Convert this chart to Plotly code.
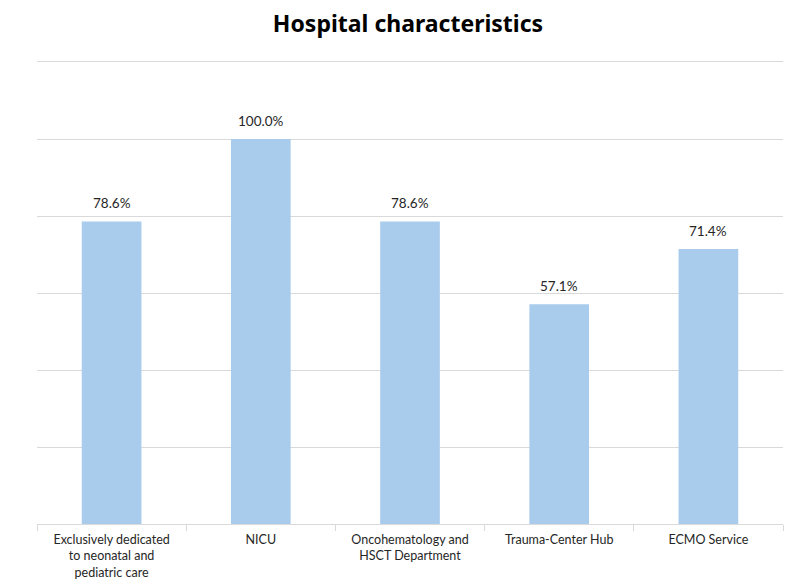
import plotly.graph_objects as go

categories = [
    "Exclusively dedicated<br>to neonatal and<br>pediatric care",
    "NICU",
    "Oncohematology and<br>HSCT Department",
    "Trauma-Center Hub",
    "ECMO Service",
]
values = [78.6, 100.0, 78.6, 57.1, 71.4]
labels = [f"{v:.1f}%" for v in values]

font_family = "Lato, Noto Sans, sans-serif"
title_family = "Noto Sans, sans-serif"

fig = go.Figure(
    go.Bar(
        x=categories,
        y=values,
        marker=dict(color="#A9CBEC", line=dict(width=0)),
        width=0.4,
        hoverinfo="x+y",
    )
)

for c, v, t in zip(categories, values, labels):
    fig.add_annotation(
        x=c, y=v, text=t, showarrow=False,
        xanchor="center", yanchor="bottom", yshift=8,
        font=dict(size=13.5, color="#262626", family=font_family),
    )

fig.update_layout(
    width=800,
    height=588,
    margin=dict(l=29, r=25, t=54, b=72),
    paper_bgcolor="white",
    plot_bgcolor="white",
    font=dict(family=font_family, color="#262626"),
    title=dict(
        text="<b>Hospital characteristics</b>",
        x=0.5,
        xanchor="center",
        y=0.973,
        yanchor="middle",
        font=dict(size=23, color="#000000", family=title_family),
    ),
    showlegend=False,
)

fig.update_xaxes(
    automargin=False,
    showline=True,
    mirror=True,
    linecolor="#d9d9d9",
    linewidth=1,
    ticks="outside",
    tickson="boundaries",
    ticklen=6,
    tickcolor="#d9d9d9",
    ticklabelstandoff=4,
    tickfont=dict(size=12.5, color="#262626", family=font_family),
    showgrid=False,
)

fig.update_yaxes(
    automargin=False,
    range=[0, 120],
    dtick=20,
    showgrid=True,
    gridcolor="#d9d9d9",
    gridwidth=1,
    showticklabels=False,
    zeroline=False,
    showline=False,
)

fig.write_html("out.html")
